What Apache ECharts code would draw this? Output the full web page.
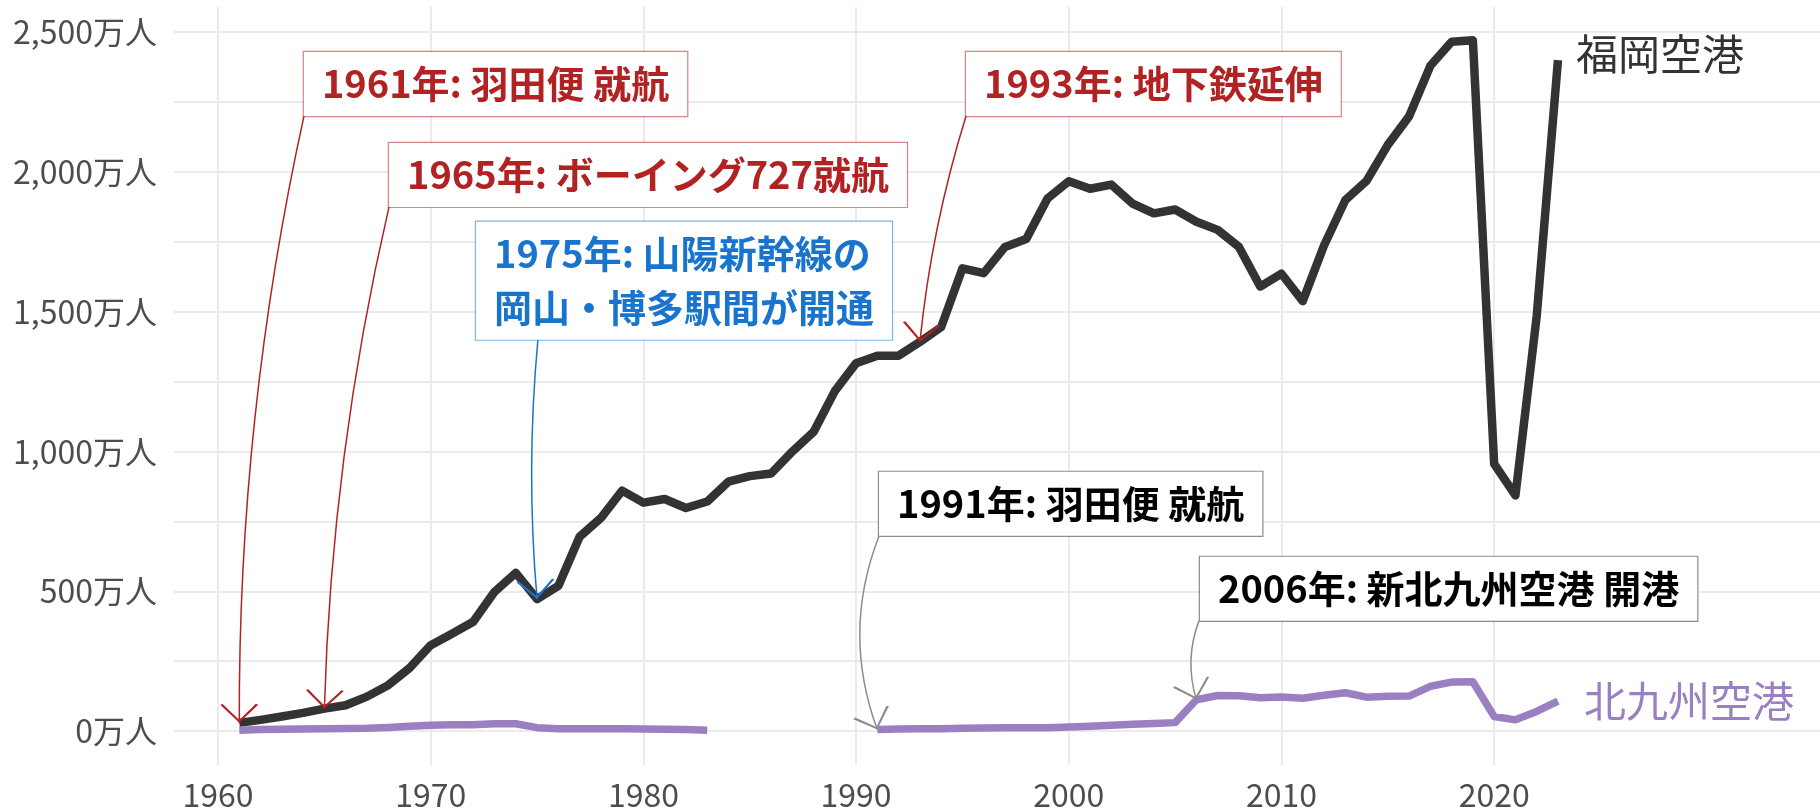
<!DOCTYPE html>
<html><head><meta charset="utf-8">
<script src="https://cdn.jsdelivr.net/npm/echarts@6/dist/echarts.min.js"></script>
<style>html,body{margin:0;padding:0;background:#fff}#c{width:1820px;height:812px}</style>
</head><body><div id="c"></div>
<script>
// ---- data (万人) ----
const years = [1961,1962,1963,1964,1965,1966,1967,1968,1969,1970,1971,1972,1973,1974,1975,1976,1977,1978,1979,1980,
  1981,1982,1983,1984,1985,1986,1987,1988,1989,1990,1991,1992,1993,1994,1995,1996,1997,1998,1999,2000,
  2001,2002,2003,2004,2005,2006,2007,2008,2009,2010,2011,2012,2013,2014,2015,2016,2017,2018,2019,2020,
  2021,2022,2023];
const fukuoka = [29,40,52,65,80,92,123,164,225,307,348,391,498,566,472,519,695,762,860,817,
  830,798,821,892,912,921,1000,1070,1216,1316,1343,1343,1392,1445,1655,1638,1732,1760,1905,1967,
  1940,1955,1887,1852,1866,1822,1793,1732,1590,1636,1538,1737,1899,1968,2097,2199,2380,2466,2471,956,
  843,1484,2400];
const kitakyushu = [3,5,6,7,8,9,10,13,17,21,22,22,26,26,12,8,8,8,8,7,
  6,5,3,null,null,null,null,null,null,null,5,7,8,8,10,11,12,12,12,14,
  17,21,24,27,30,112,127,126,119,122,117,128,137,121,124,125,160,175,176,52,
  40,70,107];
const seriesNames = ['福岡空港', '北九州空港'];

const xTickValues = [1960,1970,1980,1990,2000,2010,2020];
const yLabelValues = [0,500,1000,1500,2000,2500];
const yGridValues = [0,250,500,750,1000,1250,1500,1750,2000,2250,2500];

// annotations: text, target year, target series, label anchor (data coords), curve start (data coords)
const noteTexts = ['1961年: 羽田便 就航', '1965年: ボーイング727就航', '1975年: 山陽新幹線の\n岡山・博多駅間が開通',
  '1993年: 地下鉄延伸', '1991年: 羽田便 就航', '2006年: 新北九州空港 開港'];
const noteYears = [1961, 1965, 1975, 1993, 1991, 2006];
const noteSeries = [0, 0, 0, 0, 1, 1];
const noteLabelX = [1964.04, 1968.04, 1972.13, 1995.17, 1991.08, 2006.17];
const noteLabelY = [2200, 1875, 1400, 2200, 698, 394];
const noteStartX = [1964.04, 1968.04, 1975.04, 1995.17, 1991.08, 2006.12];
const noteStartY = [2200, 1875, 1400, 2200, 698, 394];
const noteKind = ['red', 'red', 'blue', 'red', 'black', 'black'];

// ---- styles ----
const FONT = '"Noto Sans CJK JP", "Noto Sans", sans-serif';
const kindStyle = {
  red:   {text: '#B22222', border: 'rgba(178,34,34,0.55)', line: '#B22222'},
  blue:  {text: '#1874CD', border: 'rgba(24,116,205,0.55)', line: '#1874CD'},
  black: {text: '#000000', border: '#8c8c8c', line: '#8c8c8c'}
};
const curv = [-0.055, -0.05, -0.045, -0.05, -0.19, -0.17];
const arrowPath = 'path://M11,0 L11.01,0 L11,0.02 Z M11,19 L22,37 L20.6,37.8 L11,21.8 L1.4,37.8 L0,37 Z';

const seriesData = [fukuoka, kitakyushu];
const toPairs = arr => years.map((y, i) => [y, arr[i] == null ? '-' : arr[i]]);

const chart = echarts.init(document.getElementById('c'), null, {renderer: 'canvas'});
chart.setOption({
  animation: false,
  backgroundColor: '#ffffff',
  grid: {left: 174, right: 0, top: 7, bottom: 47, containLabel: false, outerBoundsMode: 'none'},
  xAxis: {
    type: 'value', min: 1957.93, max: 2035.32,
    axisLine: {show: false},
    axisTick: {show: false, customValues: xTickValues},
    axisLabel: {customValues: xTickValues, fontSize: 32, color: '#4d4d4d', margin: 14, fontFamily: FONT,
      formatter: v => String(v)},
    splitLine: {show: true, lineStyle: {color: '#ebebeb', width: 2}}
  },
  yAxis: {
    type: 'value', min: -121.6, max: 2590.3,
    axisLine: {show: false},
    axisTick: {show: false, customValues: yGridValues},
    axisLabel: {customValues: yLabelValues, fontSize: 32, color: '#4d4d4d', margin: 17, fontFamily: FONT,
      formatter: v => v.toLocaleString('en-US') + '万人'},
    splitLine: {show: true, lineStyle: {color: '#ebebeb', width: 2}}
  },
  series: [
    {
      name: seriesNames[0], type: 'line', data: toPairs(fukuoka), showSymbol: false, z: 3,
      lineStyle: {color: '#333333', width: 8.5, cap: 'butt', join: 'round'},
      itemStyle: {color: '#333333'},
      endLabel: {show: true, formatter: '{a}', distance: 18, offset: [0, -6], color: '#333333', fontSize: 42, fontFamily: FONT}
    },
    {
      name: seriesNames[1], type: 'line', data: toPairs(kitakyushu), showSymbol: false, connectNulls: false, z: 3,
      lineStyle: {color: '#9b80c1', width: 7.5, cap: 'butt', join: 'round'},
      itemStyle: {color: '#9b80c1'},
      endLabel: {show: true, formatter: '{a}', distance: 26, color: '#9b80c1', fontSize: 42, fontFamily: FONT}
    },
    {
      type: 'lines', coordinateSystem: 'cartesian2d', z: 4, silent: true,
      symbol: ['none', arrowPath], symbolSize: [22, 38],
      data: noteTexts.map((t, i) => ({
        coords: [[noteStartX[i], noteStartY[i]],
                 [noteYears[i], seriesData[noteSeries[i]][years.indexOf(noteYears[i])]]],
        lineStyle: {color: kindStyle[noteKind[i]].line, width: 1.5, curveness: curv[i], opacity: 1}
      }))
    },
    {
      type: 'scatter', z: 5, silent: true, symbolSize: 0.1,
      itemStyle: {color: 'rgba(0,0,0,0)', opacity: 1},
      data: noteTexts.map((t, i) => ({
        value: [noteLabelX[i], noteLabelY[i]],
        label: {
          show: true, position: [0, 0], align: 'left', verticalAlign: 'bottom', opacity: 1,
          formatter: t, fontSize: 38, fontWeight: 'bold', fontFamily: FONT, lineHeight: 54,
          color: kindStyle[noteKind[i]].text, backgroundColor: '#ffffff',
          borderColor: kindStyle[noteKind[i]].border, borderWidth: 1.2, padding: [5, 18]
        }
      }))
    }
  ]
});
</script></body></html>
